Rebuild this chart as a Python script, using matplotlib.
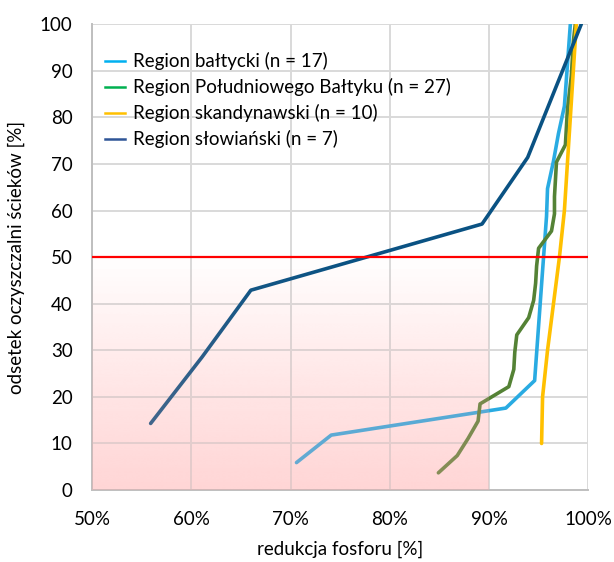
import numpy as np
import matplotlib.pyplot as plt
from matplotlib.lines import Line2D

plt.rcParams["font.family"] = ["Lato", "DejaVu Sans"]

# krzywe skumulowane: redukcja fosforu [%] vs odsetek oczyszczalni [%]
baltic_x = [70.6, 74.1, 91.7, 94.6, 94.8, 95.0, 95.2, 95.4, 95.6, 95.8, 95.9,
            96.5, 97.0, 97.6, 97.8, 98.0, 98.2]
baltic_y = [5.9, 11.8, 17.6, 23.5, 29.4, 35.3, 41.2, 47.1, 52.9, 58.8, 64.7,
            70.6, 76.5, 82.4, 88.2, 94.1, 100.0]

south_x = [84.9, 86.8, 87.9, 88.9, 89.1, 92.0, 92.5, 92.6, 92.8, 94.0, 94.5,
           94.7, 94.8, 95.0, 96.3, 96.6, 96.6, 96.7, 96.8, 97.7, 97.8, 97.9,
           98.1, 98.3, 98.4, 98.5, 98.7]
south_y = [3.7, 7.4, 11.1, 14.8, 18.5, 22.2, 25.9, 29.6, 33.3, 37.0, 40.7,
           44.4, 48.1, 51.9, 55.6, 59.3, 63.0, 66.7, 70.4, 74.1, 77.8, 81.5,
           85.2, 88.9, 92.6, 96.3, 100.0]

scand_x = [95.3, 95.4, 95.9, 96.5, 97.1, 97.6, 97.9, 98.2, 98.5, 98.8]
scand_y = [10, 20, 30, 40, 50, 60, 70, 80, 90, 100]

slav_x = [55.9, 61.1, 66.0, 89.3, 93.9, 96.6, 99.3]
slav_y = [14.3, 28.6, 42.9, 57.1, 71.4, 85.7, 100.0]

labels = ["Region bałtycki (n = 17)",
          "Region Południowego Bałtyku (n = 27)",
          "Region skandynawski (n = 10)",
          "Region słowiański (n = 7)"]
line_colors = ["#29ABE2", "#548235", "#FFC000", "#0A5283"]
legend_colors = ["#00B0F0", "#00B050", "#FFC000", "#2F5597"]

threshold = 50
zone_x = (50, 90)

fig = plt.figure(figsize=(6.14, 5.62), dpi=100)
ax = fig.add_axes([0.150, 0.128, 0.808, 0.829])


def gradient(rgb, max_alpha):
    a = np.linspace(max_alpha, 0, 256)
    img = np.zeros((256, 1, 4))
    img[..., 0] = rgb[0] / 255
    img[..., 1] = rgb[1] / 255
    img[..., 2] = rgb[2] / 255
    img[..., 3] = a[:, None]
    return img


extent = [zone_x[0], zone_x[1], 0, threshold]
ax.imshow(gradient((255, 235, 235), 1.0), extent=extent, origin="lower",
          aspect="auto", zorder=0.4, interpolation="bilinear")

series = [(baltic_x, baltic_y), (south_x, south_y),
          (scand_x, scand_y), (slav_x, slav_y)]
for (xs, ys), c in zip(series, line_colors):
    ax.plot(xs, ys, color=c, lw=2.6, solid_joinstyle="round",
            solid_capstyle="round", zorder=2)

# pas poniżej progu przykrywa częściowo linie
ax.imshow(gradient((255, 170, 170), 0.32), extent=extent, origin="lower",
          aspect="auto", zorder=3, interpolation="bilinear")

ax.axhline(threshold, color="#FF0000", lw=1.6, zorder=4)

ax.set_xlim(50, 100)
ax.set_ylim(0, 100)
ax.set_xticks(range(50, 101, 10))
ax.set_xticklabels([f"{v}%" for v in range(50, 101, 10)])
ax.set_yticks(range(0, 101, 10))
ax.tick_params(length=0, labelsize=13.5, colors="#000000")
ax.tick_params(axis="x", pad=15)
ax.tick_params(axis="y", pad=14)

ax.set_axisbelow(True)
ax.grid(True, color="#D9D9D9", lw=1.4)
for s in ["top", "right"]:
    ax.spines[s].set_visible(False)
for s in ["left", "bottom"]:
    ax.spines[s].set_color("#BFBFBF")
    ax.spines[s].set_linewidth(1.4)

ax.set_xlabel("redukcja fosforu [%]", fontsize=13.5, labelpad=9)
ax.set_ylabel("odsetek oczyszczalni ścieków [%]", fontsize=13.5, labelpad=11)

handles = [Line2D([], [], color=c, lw=1.8) for c in legend_colors]
ax.legend(handles, labels, loc="upper left", bbox_to_anchor=(0.0, 0.968),
          frameon=False, fontsize=13.5, handlelength=1.05, handletextpad=0.45,
          labelspacing=0.42, borderaxespad=0.3)

fig.savefig("out.png", dpi=100)
plt.close(fig)
